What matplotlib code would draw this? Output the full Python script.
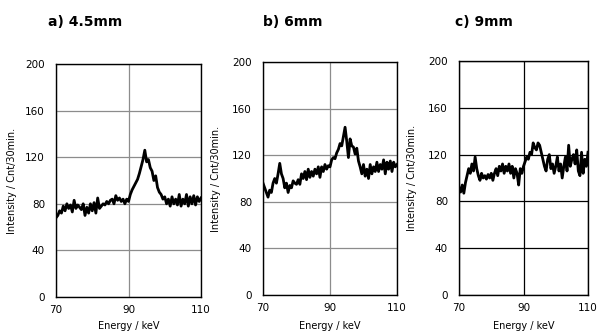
import numpy as np
import matplotlib
matplotlib.use("Agg")
import matplotlib.pyplot as plt

energy = np.arange(70, 110.01, 0.5)

counts_a = [68, 70, 74, 72, 78, 74, 80, 76, 79, 73, 83, 76, 79, 77, 75, 80, 70, 77, 72, 80,
            74, 81, 72, 85, 76, 78, 80, 79, 82, 80, 83, 84, 80, 87, 83, 85, 82, 84, 80, 84,
            82, 88, 92, 95, 98, 101, 106, 112, 118, 126, 116, 118, 111, 108, 100, 104, 94, 90, 88, 84,
            86, 80, 84, 78, 86, 80, 84, 79, 88, 78, 84, 80, 88, 78, 86, 80, 87, 79, 86, 82, 85]

counts_b = [96, 92, 88, 84, 90, 88, 96, 100, 96, 104, 113, 104, 100, 92, 96, 88, 94, 92, 98, 96,
            95, 99, 95, 104, 100, 106, 99, 108, 101, 106, 102, 108, 104, 110, 101, 110, 106, 112, 108, 111,
            110, 116, 118, 117, 122, 125, 130, 128, 136, 144, 132, 118, 134, 128, 127, 121, 126, 115, 110, 104,
            112, 102, 108, 100, 112, 104, 110, 106, 114, 106, 112, 108, 116, 104, 114, 108, 115, 106, 114, 110, 112]

counts_c = [92, 88, 94, 87, 96, 102, 108, 104, 112, 106, 118, 108, 102, 98, 104, 100, 102, 99, 103, 100,
            104, 98, 104, 108, 102, 110, 106, 112, 104, 110, 106, 112, 104, 110, 100, 108, 104, 94, 108, 104,
            110, 114, 118, 116, 122, 120, 130, 126, 124, 130, 128, 122, 116, 110, 106, 116, 120, 108, 112, 104,
            110, 118, 106, 112, 100, 110, 118, 106, 128, 110, 116, 120, 112, 124, 106, 102, 122, 104, 116, 110, 122]

titles = ["a) 4.5mm", "b) 6mm", "c) 9mm"]
series = [counts_a, counts_b, counts_c]
yticks = [0, 40, 80, 120, 160, 200]
xticks = [70, 90, 110]

W, H = 599, 336
fig = plt.figure(figsize=(W / 100, H / 100), dpi=100)

# pixel boxes: left, right, top, bottom
boxes = [(56, 201, 64, 297), (263, 397, 62, 295), (459, 588, 61, 295)]
grid_colors = ["#8c8c8c", "#8c8c8c", "black"]
ylab_x = [17, 221, 417]
title_x = [48, 263, 455]

for i, (box, data) in enumerate(zip(boxes, series)):
    l, r, t, b = box
    ax = fig.add_axes([l / W, 1 - b / H, (r - l) / W, (b - t) / H])
    ax.plot(energy, data, color="black", lw=2.0)
    ax.set_xlim(70, 110)
    ax.set_ylim(0, 200)
    ax.set_xticks(xticks)
    ax.set_yticks(yticks)
    ax.grid(True, color=grid_colors[i], lw=0.9)
    ax.set_axisbelow(True)
    ax.tick_params(length=0, labelsize=7.5, pad=8)
    ax.tick_params(axis="x", pad=6)
    for s in ax.spines.values():
        s.set_linewidth(1.0)
        s.set_color("black")
    ax.set_ylabel("Intensity / Cnt/30min.", fontsize=7)
    ax.yaxis.set_label_coords((ylab_x[i] - l) / (r - l), 0.5)
    ax.set_xlabel("Energy / keV", fontsize=7, va="center")
    ax.xaxis.set_label_coords(0.5, (b - 326) / (b - t))
    fig.text(title_x[i] / W, 1 - 22 / H, titles[i], fontsize=10, fontweight="bold",
             ha="left", va="center")

fig.savefig("out.png", dpi=100)
